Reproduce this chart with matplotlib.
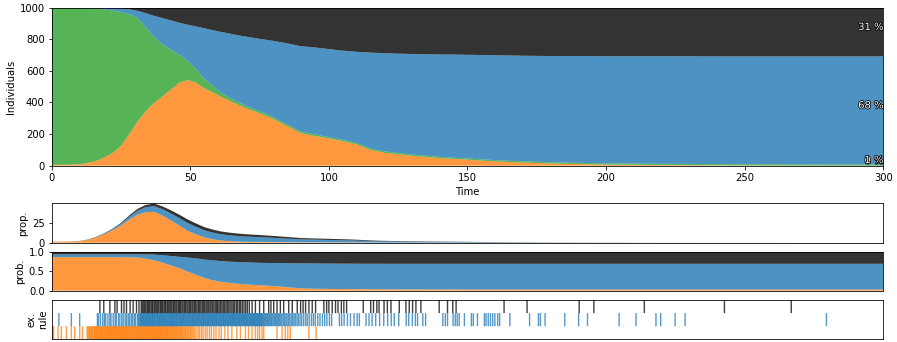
import matplotlib.pyplot as plt
import matplotlib.patheffects as pe
import numpy as np

N = 1000

# compartment counts of one stochastic run
t = [0, 5, 10, 13, 16, 19, 22, 25, 28, 31, 34, 37, 40, 43, 46, 49, 52, 55, 58, 61,
     64, 67, 70, 75, 80, 85, 90, 95, 100, 105, 110, 115, 120, 125, 130, 140, 150,
     160, 170, 180, 190, 200, 220, 240, 260, 280, 300]
S = [995, 994, 989, 980, 964, 937, 902, 848, 760, 655, 530, 415, 330, 252, 178, 122,
     88, 60, 42, 26, 20, 16, 14, 13, 12, 11, 10, 10, 9, 9, 9, 9, 9, 9, 9, 8, 8,
     8, 8, 8, 8, 8, 8, 8, 8, 8, 8]
I = [5, 6, 9, 17, 30, 52, 80, 125, 200, 280, 345, 398, 438, 482, 525, 542, 527, 490,
     465, 437, 412, 388, 365, 332, 295, 250, 205, 188, 172, 155, 135, 100, 82, 72,
     62, 48, 38, 27, 20, 14, 10, 7, 4, 2, 1, 0, 0]
R = [0, 0, 2, 3, 6, 10, 16, 22, 30, 45, 90, 135, 166, 186, 202, 228, 267, 320, 351,
     384, 405, 422, 438, 458, 483, 513, 541, 550, 557, 564, 577, 607, 621, 628, 636,
     648, 656, 664, 668, 672, 676, 678, 681, 682, 683, 684, 684]
D = [0, 0, 0, 0, 0, 1, 2, 5, 10, 20, 35, 52, 66, 80, 95, 108, 118, 130, 142, 153,
     163, 174, 183, 197, 210, 226, 244, 252, 262, 272, 279, 284, 288, 291, 293, 296,
     298, 301, 304, 306, 306, 307, 307, 308, 308, 308, 308]

# reaction propensities (infection, recovery, death)
prop_inf = [1.1, 1.3, 1.9, 3.6, 6.5, 10.5, 15.5, 21.5, 29, 35, 38.3, 38.6, 34, 28,
            21.5, 15, 10.5, 6.8, 4.4, 2.7, 1.9, 1.4, 1.1, 0.95, 0.78, 0.6, 0.46, 0.41,
            0.34, 0.3, 0.26, 0.2, 0.16, 0.14, 0.12, 0.08, 0.07, 0.05, 0.03, 0.02, 0.02,
            0.01, 0.01, 0, 0, 0, 0]
prop_rec = [0.09, 0.11, 0.16, 0.31, 0.54, 0.94, 1.44, 2.25, 3.6, 5.04, 6.21, 7.16,
            7.88, 8.68, 9.45, 9.76, 9.49, 8.82, 8.37, 7.87, 7.42, 6.98, 6.57, 5.98,
            5.31, 4.5, 3.69, 3.38, 3.1, 2.79, 2.43, 1.8, 1.48, 1.3, 1.12, 0.86, 0.68,
            0.49, 0.36, 0.25, 0.18, 0.13, 0.07, 0.04, 0.02, 0, 0]
prop_death = [0.04, 0.05, 0.07, 0.14, 0.24, 0.42, 0.64, 1.0, 1.6, 2.24, 2.76, 3.18,
              3.5, 3.86, 4.2, 4.34, 4.22, 3.92, 3.72, 3.5, 3.3, 3.1, 2.92, 2.66, 2.36,
              2.0, 1.64, 1.5, 1.38, 1.24, 1.08, 0.8, 0.66, 0.58, 0.5, 0.38, 0.3, 0.22,
              0.16, 0.11, 0.08, 0.06, 0.03, 0.02, 0.01, 0, 0]

# reaction probabilities
t_prob = [0, 25, 31, 34, 37, 40, 43, 46, 49, 52, 55, 58, 61, 64, 67, 70, 75, 80, 85,
          90, 95, 100, 110, 120, 150, 200, 300]
prob_inf = [0.86, 0.86, 0.85, 0.82, 0.78, 0.72, 0.65, 0.58, 0.49, 0.41, 0.33, 0.27,
            0.23, 0.20, 0.18, 0.16, 0.14, 0.12, 0.09, 0.06, 0.05, 0.045, 0.04, 0.035,
            0.03, 0.03, 0.03]
prob_rec = [0.07, 0.07, 0.08, 0.11, 0.145, 0.19, 0.24, 0.29, 0.36, 0.42, 0.47, 0.51,
            0.53, 0.545, 0.555, 0.565, 0.575, 0.59, 0.615, 0.64, 0.648, 0.65, 0.652,
            0.655, 0.66, 0.66, 0.66]
prob_death = [0.07, 0.07, 0.07, 0.07, 0.075, 0.09, 0.11, 0.13, 0.15, 0.17, 0.20, 0.22,
              0.24, 0.255, 0.265, 0.275, 0.285, 0.29, 0.295, 0.30, 0.302, 0.305, 0.308,
              0.31, 0.31, 0.31, 0.31]

# times at which each rule fired
ev_inf = [0.4, 0.7, 2.3, 3.5, 5.3, 7.1, 8.3, 10.1, 11.1,
          12.8, 13.1, 13.5, 13.7, 14.0, 14.4, 14.6, 14.9, 15.3, 15.5, 15.8, 16.1, 16.3,
          16.6, 16.9, 17.1, 17.4, 17.6, 17.9, 18.1, 18.4, 18.6, 18.9, 19.1, 19.4, 19.6,
          19.9, 20.1, 20.3, 20.6, 20.8, 21.1, 21.3, 21.5, 21.8, 22.0, 22.3, 22.5, 22.7,
          23.0, 23.2, 23.4, 23.7, 23.9, 24.1, 24.4, 24.6, 24.8, 25.1, 25.3, 25.5, 25.8,
          26.0, 26.2, 26.5, 26.7, 26.9, 27.2, 27.4, 27.6, 27.9, 28.1, 28.3, 28.6, 28.8,
          29.0, 29.3, 29.5, 29.7, 30.0, 30.2, 30.4, 30.7, 30.9, 31.1, 31.4, 31.6, 31.8,
          32.1, 32.3, 32.5, 32.8, 33.0, 33.2, 33.5, 33.7, 33.9, 34.2, 34.4, 34.6, 34.9,
          35.1, 35.3, 35.6, 35.8, 36.0, 36.3, 36.5, 36.7, 37.0, 37.2, 37.4, 37.7, 37.9,
          38.1, 38.4, 38.6, 38.8, 39.1, 39.3, 39.5, 39.8, 40.0, 40.3, 40.5, 40.8, 41.0,
          41.3, 41.5, 41.8, 42.0, 42.3, 42.6, 42.8, 43.1, 43.4, 43.6, 43.9, 44.2, 44.5,
          44.7, 45.0, 45.3, 45.6, 45.9, 46.2, 46.5, 46.8, 47.1, 47.4, 47.8, 48.1, 48.4,
          48.8, 49.1, 49.5, 49.9, 50.2, 50.6, 51.0,
          51.5, 52.1, 52.8, 53.3, 54.0, 54.6, 55.4, 56.1, 56.9, 57.6, 58.5, 59.3, 60.4,
          61.2, 62.5, 63.6, 65.0, 66.8, 68.1, 69.9, 71.0, 72.3, 73.5, 74.3, 75.0, 75.9,
          76.5, 81.3, 83.1, 84.3, 85.2, 86.1, 92.8, 95.4]
ev_rec = [2.6, 7.1, 10.1,
          16.5, 16.9, 17.6, 18.4, 19.0, 19.5, 20.3, 21.0, 21.4, 22.2, 22.9, 23.3, 24.1,
          24.6, 25.3, 25.8, 26.5, 27.0, 27.6, 28.1, 28.7, 29.2, 29.8, 30.2, 30.9, 31.3,
          31.7,
          32.0, 32.3, 32.5, 32.8, 33.1, 33.3, 33.6, 33.9, 34.1, 34.4, 34.7, 34.9, 35.2,
          35.5, 35.7, 36.0, 36.3, 36.5, 36.8, 37.1, 37.3, 37.6, 37.9, 38.1, 38.4, 38.7,
          38.9, 39.2, 39.5, 39.7, 40.0, 40.3, 40.5, 40.8, 41.1, 41.3, 41.6, 41.9, 42.1,
          42.4, 42.7, 42.9, 43.2, 43.5, 43.7, 44.0, 44.3, 44.5, 44.8, 45.1, 45.3, 45.6,
          45.9, 46.1, 46.4, 46.7, 46.9, 47.2, 47.5, 47.7, 48.0, 48.3, 48.5, 48.8, 49.1,
          49.3, 49.6, 49.9, 50.1, 50.4, 50.7, 50.9, 51.2, 51.5, 51.7, 52.0, 52.3, 52.5,
          52.8, 53.1, 53.3, 53.6, 53.9, 54.1, 54.4, 54.7, 54.9, 55.2, 55.5, 55.7, 56.0,
          56.3, 56.5, 56.8, 57.1, 57.3, 57.6, 57.9, 58.1, 58.4, 58.7, 58.9, 59.2, 59.5,
          59.7, 60.0, 60.3, 60.5, 60.8, 61.1, 61.3, 61.6, 61.9, 62.1, 62.4, 62.7, 62.9,
          63.2, 63.5, 63.7, 64.0, 64.3, 64.5, 64.8, 65.1, 65.3, 65.6, 65.9, 66.1, 66.4,
          66.7, 66.9, 67.2, 67.5, 67.7, 68.0, 68.3, 68.5, 68.8, 69.1, 69.3, 69.6, 69.9,
          70.1, 70.4, 70.7, 70.9, 71.2, 71.5, 71.7, 72.0, 72.3, 72.5, 72.8, 73.1, 73.3,
          73.6, 73.9, 74.1, 74.4, 74.7, 74.9, 75.2, 75.5, 75.7, 76.0, 76.4, 76.7, 77.1,
          77.4, 77.8, 78.1, 78.5, 78.8, 79.2, 79.5, 79.9, 80.3, 80.7, 81.1, 81.5, 81.9,
          82.3, 82.7, 83.1, 83.6, 84.0, 84.5, 84.9, 85.4, 85.9, 86.4, 86.9, 87.4, 87.9,
          88.5, 89.0, 89.6, 90.2, 90.9, 91.6, 92.2, 92.9, 93.7, 94.4, 95.1, 96.0, 96.8,
          97.7, 98.5, 99.3, 100.2, 101.0,
          103.8, 104.6, 105.5, 106.7, 107.8, 109.1, 110.2, 111.0, 113.4, 114.5,
          115.6, 116.9, 118.3, 119.8, 121.2, 122.5, 123.6, 125.2, 127.9, 128.8, 130.1,
          131.2, 132.0, 133.9, 134.9, 141.1, 142.0, 142.8, 144.8, 145.6, 146.3, 147.0,
          148.9, 151.4, 152.1, 153.6, 156.1, 156.7, 157.5, 158.3, 159.1, 159.9, 160.9,
          161.6, 165.3, 172.4, 175.6, 176.3, 178.0, 185.1, 190.1, 193.3, 204.7, 210.8,
          218.0, 219.7, 224.9, 228.5, 279.5]
ev_death = [17.4, 18.8, 21.0, 22.8, 23.6, 25.2, 26.1, 27.0, 28.3, 29.4, 30.6, 31.5,
            32.3, 32.7, 33.2, 33.6, 34.0, 34.5, 34.9, 35.3, 35.8, 36.2, 36.5, 37.0,
            37.4, 37.9, 38.3, 38.7, 39.2, 39.6, 40.0, 40.5, 40.9, 41.2, 41.7, 42.1,
            42.6, 43.0, 43.4, 43.9, 44.3, 44.8, 45.2, 45.7, 46.1, 46.5, 47.0, 47.4,
            47.9, 48.3, 48.8, 49.2, 49.7, 50.1, 50.6, 51.0, 51.5, 51.9, 52.4, 52.9,
            53.3, 53.8, 54.3, 54.7, 55.2, 55.7, 56.1, 56.6, 57.1, 57.5, 58.0, 58.5,
            59.0, 59.5, 59.9, 60.4, 60.9, 61.4, 61.9, 62.4, 62.9, 63.4, 63.9, 64.4,
            65.0, 65.5, 66.0, 66.6, 67.1, 67.7, 68.2, 68.8, 69.4, 70.0, 70.6, 71.3,
            72.3, 73.5, 75.0, 76.5, 78.3, 79.1, 80.1, 81.3, 82.5, 83.7, 85.5, 86.8, 88.6,
            89.8, 90.7, 91.6, 92.8, 94.0, 95.2, 98.2, 99.2, 100.0, 101.2, 102.4, 103.3,
            104.5, 105.4, 106.4, 112.4, 115.1, 116.1, 117.3, 118.1, 119.9, 121.1, 122.4,
            125.4, 127.8, 129.0, 130.2, 131.4, 133.2, 139.8, 142.8, 144.7, 145.9, 163.2,
            171.5, 190.3, 195.6, 213.8, 242.7, 266.8]

c_inf, c_sus, c_rec, c_dead = 'tab:orange', 'tab:green', 'tab:blue', 'k'

fig = plt.figure(figsize=(897 / 72, 342 / 72), dpi=72)
ax1 = fig.add_axes([0.0576, 0.5155, 0.9271, 0.4620])
ax2 = fig.add_axes([0.0576, 0.2904, 0.9271, 0.1152])
ax3 = fig.add_axes([0.0576, 0.1500, 0.9271, 0.1140])
ax4 = fig.add_axes([0.0576, 0.0079, 0.9271, 0.1149])

# population
ax1.stackplot(t, I, S, R, D, colors=[c_inf, c_sus, c_rec, c_dead], alpha=0.8)
ax1.set_xlim(0, 300)
ax1.set_ylim(0, N)
ax1.set_xlabel('Time')
ax1.set_ylabel('Individuals')

# final share of each compartment, written at the right edge
base = 0
for vals in (I, S, R, D):
    share = 100 * vals[-1] / N
    ax1.text(300, base + vals[-1] / 2, f'{share:.0f} %', ha='right', va='bottom',
             color='w', path_effects=[pe.withStroke(linewidth=1.5, foreground='k')])
    base += vals[-1]

ax2.stackplot(t, prop_inf, prop_rec, prop_death, colors=[c_inf, c_rec, c_dead], alpha=0.8)
ax2.set_xlim(0, 300)
ax2.set_ylim(0, 49.3)
ax2.set_yticks([0, 25])
ax2.set_xticks([])
ax2.set_ylabel('prop.')

ax3.stackplot(t_prob, prob_inf, prob_rec, prob_death, colors=[c_inf, c_rec, c_dead], alpha=0.8)
ax3.set_xlim(0, 300)
ax3.set_ylim(0, 1)
ax3.set_yticks([0, 0.5, 1.0])
ax3.set_xticks([])
ax3.set_ylabel('prob.')

ax4.eventplot([ev_inf, ev_rec, ev_death], colors=[c_inf, c_rec, c_dead],
              lineoffsets=[0, 1, 2], linelengths=1, linewidths=1.4, alpha=0.75,
              snap=False)
ax4.set_xlim(0, 300)
ax4.set_ylim(-0.5, 2.5)
ax4.set_xticks([])
ax4.set_yticks([])
ax4.set_ylabel('ex.\nrule')

fig.savefig('out.png', dpi=72)
